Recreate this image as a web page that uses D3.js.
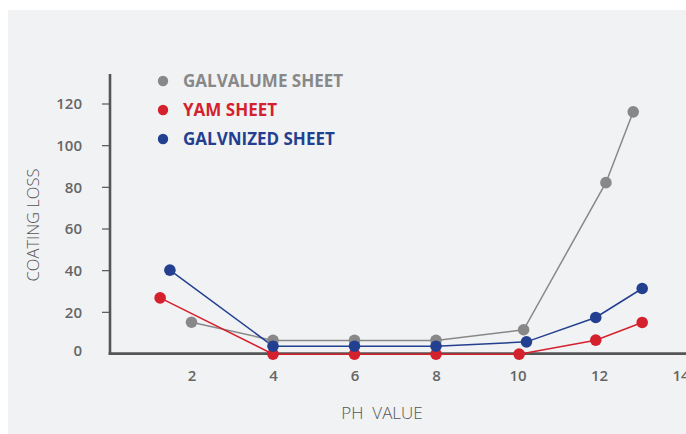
<!DOCTYPE html>
<html>
<head>
<meta charset="utf-8"/>
<style>
  body { margin: 0; background: #fff; }
  svg text { font-family: "Open Sans", "Noto Sans", sans-serif; }
</style>
</head>
<body>
<svg id="chart" width="686" height="434"></svg>
<script src="https://d3js.org/d3.v7.min.js"></script>
<script>
// --- data ---
const seriesNames = ["GALVALUME SHEET", "YAM SHEET", "GALVNIZED SHEET"];
const seriesColors = ["#888888", "#d4212d", "#233f8f"];

const galvalumeX = [2.0, 4.0, 6.0, 8.0, 10.15, 12.17, 12.84];
const galvalumeY = [15, 6.3, 6.3, 6.3, 11.4, 82, 116];

const yamX = [1.23, 4.0, 6.0, 8.0, 10.04, 11.92, 13.06];
const yamY = [26.7, -0.3, -0.3, -0.3, -0.3, 6.4, 14.9];

const galvX = [1.47, 4.0, 6.0, 8.0, 10.22, 11.92, 13.06];
const galvY = [40, 3.5, 3.5, 3.5, 5.6, 17.3, 31.2];

const xTicks = [2, 4, 6, 8, 10, 12, 14];
const yTicks = [0, 20, 40, 60, 80, 100, 120];

const series = [
  { name: seriesNames[0], color: seriesColors[0], pts: d3.zip(galvalumeX, galvalumeY) },
  { name: seriesNames[1], color: seriesColors[1], pts: d3.zip(yamX, yamY) },
  { name: seriesNames[2], color: seriesColors[2], pts: d3.zip(galvX, galvY) }
];

const svg = d3.select("#chart");

// grey panel
svg.append("rect")
   .attr("x", 8).attr("y", 10)
   .attr("width", 678).attr("height", 424)
   .attr("fill", "#f1f2f4");

// scales
const x = d3.scaleLinear().domain([0, 14]).range([110, 680.5]);
const y = d3.scaleLinear().domain([0, 120]).range([353.5, 103.5]);

// y axis ticks + labels
const yAxis = svg.append("g")
   .attr("transform", "translate(110,0)")
   .call(d3.axisLeft(y).tickValues(yTicks).tickSize(8).tickPadding(20));
yAxis.select(".domain").remove();
yAxis.selectAll(".tick line").attr("stroke", "#555").attr("stroke-width", 1.2);
yAxis.selectAll(".tick").filter(d => d === 0).select("line").remove();
yAxis.selectAll(".tick text")
   .attr("fill", "#666").attr("font-size", 15).attr("font-weight", 600)
   .attr("dy", "0.35em");
yAxis.selectAll(".tick").filter(d => d === 0).select("text").attr("dy", "0.1em");

// x axis labels (no tick marks)
const xAxis = svg.append("g")
   .attr("transform", "translate(0,354)")
   .call(d3.axisBottom(x).tickValues(xTicks).tickSize(0).tickPadding(16));
xAxis.select(".domain").remove();
xAxis.selectAll(".tick text")
   .attr("fill", "#666").attr("font-size", 15).attr("font-weight", 600);

// axis lines
svg.append("line")
   .attr("x1", 110).attr("x2", 110).attr("y1", 74).attr("y2", 355)
   .attr("stroke", "#555").attr("stroke-width", 2.6);
svg.append("line")
   .attr("x1", 108.7).attr("x2", 686).attr("y1", 353.7).attr("y2", 353.7)
   .attr("stroke", "#555").attr("stroke-width", 2.7);

// axis titles
svg.append("text")
   .attr("x", 382).attr("y", 419)
   .attr("text-anchor", "middle")
   .attr("fill", "#555").attr("font-size", 17).attr("font-weight", 300)
   .attr("xml:space", "preserve")
   .text("PH  VALUE");

svg.append("text")
   .attr("transform", "translate(39,225) rotate(-90)")
   .attr("text-anchor", "middle")
   .attr("fill", "#555").attr("font-size", 16.5).attr("font-weight", 300)
   .text("COATING LOSS");

// lines and dots
const line = d3.line().x(d => x(d[0])).y(d => y(d[1]));

series.forEach(s => {
  svg.append("path")
     .datum(s.pts)
     .attr("d", line)
     .attr("fill", "none")
     .attr("stroke", s.color)
     .attr("stroke-width", 1.5);
});
series.forEach(s => {
  svg.append("g")
     .selectAll("circle")
     .data(s.pts)
     .join("circle")
     .attr("cx", d => x(d[0]))
     .attr("cy", d => y(d[1]))
     .attr("r", 5.8)
     .attr("fill", s.color);
});

// legend
const legend = svg.append("g");
const legendY = [81, 110, 139];
series.forEach((s, i) => {
  legend.append("circle")
     .attr("cx", 163).attr("cy", legendY[i]).attr("r", 5.2)
     .attr("fill", s.color);
  legend.append("text")
     .attr("x", 183).attr("y", legendY[i]).attr("dy", "0.36em")
     .attr("fill", s.color).attr("font-size", 17).attr("font-weight", 700)
     .text(s.name);
});
</script>
</body>
</html>
